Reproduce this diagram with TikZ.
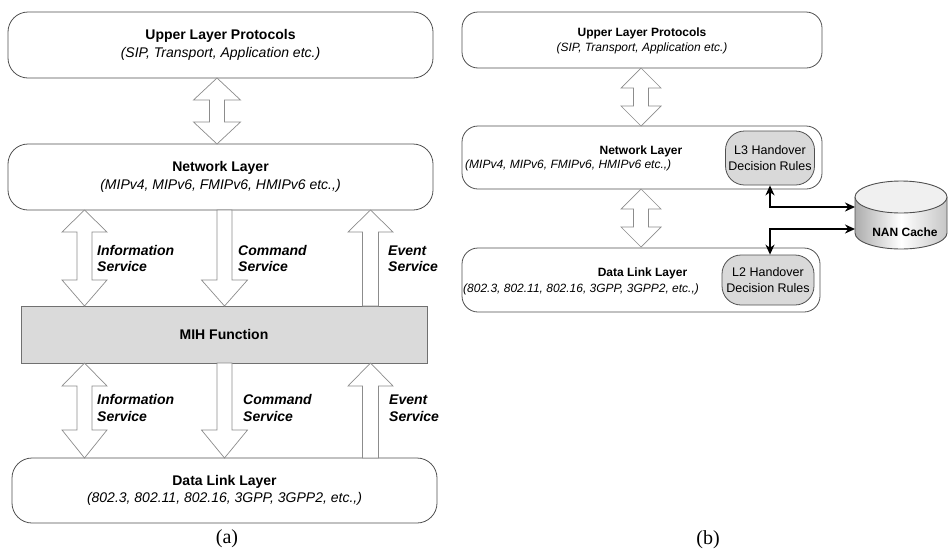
\documentclass[tikz,border=0pt]{standalone}
\usepackage{fontspec}
\setmainfont{Liberation Sans}
\newfontfamily\capfont{Liberation Serif}
\usetikzlibrary{arrows.meta}
\definecolor{boxline}{HTML}{505050}
\definecolor{arrline}{HTML}{8C8C8C}
\definecolor{mihfill}{HTML}{DADADA}
\definecolor{rulefill}{HTML}{D9D9D9}
\tikzset{
  layerA/.style={draw=boxline, line width=0.8pt, rounded corners=20pt, fill=white, minimum width=425pt, minimum height=66pt, inner sep=0pt, align=center, font=\fontsize{14}{17.5}\selectfont},
  layerB/.style={draw=boxline, line width=0.8pt, rounded corners=16pt, fill=white, minimum width=360pt, minimum height=60pt, inner sep=0pt},
  mihbox/.style={draw=arrline!80!black, line width=0.8pt, fill=mihfill, minimum width=406pt, minimum height=57pt, inner sep=0pt, font=\fontsize{14}{17}\selectfont\bfseries},
  rulebox/.style={draw=boxline, line width=0.8pt, rounded corners=19pt, fill=rulefill, inner sep=0pt, align=center, font=\fontsize{12.5}{16}\selectfont},
  blockarr/.style={draw=arrline, line width=0.7pt, fill=white, line join=miter},
  svclabel/.style={anchor=west, align=left, inner sep=0pt, font=\fontsize{14}{16.5}\selectfont\bfseries\itshape},
  btext/.style={inner sep=0pt, font=\fontsize{12}{15}\selectfont\bfseries},
  itext/.style={inner sep=0pt, font=\fontsize{12}{15}\selectfont\itshape},
  thickarr/.style={line width=2.2pt, {Stealth[length=10pt,width=9pt]}-{Stealth[length=10pt,width=9pt]}},
  caption/.style={inner sep=0pt, font=\fontsize{20}{23}\selectfont\capfont}
}
% double block arrow: cx, ytop, ybot, half head width, half shaft width, head length top, head length bottom
\newcommand{\dblarr}[7]{%
  \draw[blockarr] (#1,#2) -- ({#1+#4},{#2+#6}) -- ({#1+#5},{#2+#6}) -- ({#1+#5},{#3-#7}) -- ({#1+#4},{#3-#7}) -- (#1,#3) -- ({#1-#4},{#3-#7}) -- ({#1-#5},{#3-#7}) -- ({#1-#5},{#2+#6}) -- ({#1-#4},{#2+#6}) -- cycle;}
% down block arrow: cx, ytop, ybot, hw, sw, hl
\newcommand{\dnarr}[6]{%
  \draw[blockarr] ({#1-#5},#2) -- ({#1+#5},#2) -- ({#1+#5},{#3-#6}) -- ({#1+#4},{#3-#6}) -- (#1,#3) -- ({#1-#4},{#3-#6}) -- ({#1-#5},{#3-#6}) -- cycle;}
% up block arrow: cx, ytop(tip), ybot, hw, sw, hl
\newcommand{\uparr}[6]{%
  \draw[blockarr] ({#1-#5},#3) -- ({#1+#5},#3) -- ({#1+#5},{#2+#6}) -- ({#1+#4},{#2+#6}) -- (#1,#2) -- ({#1-#4},{#2+#6}) -- ({#1-#5},{#2+#6}) -- cycle;}
\begin{document}
\begin{tikzpicture}[x=1pt,y=-1pt]
\useasboundingbox (0,0) rectangle (948,552);
% ---------------- (a) ----------------
\node[layerA] (ulA) at (220.5,45) {\bfseries Upper Layer Protocols\\\itshape (SIP, Transport, Application etc.)};
\node[layerA] (nlA) at (220.5,177) {\bfseries Network Layer\\\itshape (MIPv4, MIPv6, FMIPv6, HMIPv6 etc.,)};
\node[mihbox] (mih) at (224,334.5) {MIH Function};
\node[layerA, minimum height=65pt] (dlA) at (224.5,490.5) {\bfseries Data Link Layer\\\itshape (802.3, 802.11, 802.16, 3GPP, 3GPP2, etc.,)};

\dblarr{217}{78}{144}{23.5}{7.5}{22}{22}
% upper group
\dblarr{84.5}{210}{306}{22.5}{7.5}{22}{26}
\dnarr{224.5}{210}{306}{23}{7.5}{26}
\uparr{370.5}{210}{306}{22.5}{8}{22}
% lower group
\dblarr{84.5}{363}{458}{22.5}{7.5}{23}{28}
\dnarr{224.5}{363}{458}{23}{7.5}{28}
\uparr{370.5}{363}{458}{22.5}{8}{23}

\node[svclabel] (isU) at (97,258.5) {Information\\Service};
\node[svclabel] (csU) at (238,258.5) {Command\\Service};
\node[svclabel] (esU) at (388,258.5) {Event\\Service};
\node[svclabel] (isL) at (97,408) {Information\\Service};
\node[svclabel] (csL) at (243,408) {Command\\Service};
\node[svclabel] (esL) at (389,408) {Event\\Service};

\node[caption] (capA) at (227,539) {(a)};

% ---------------- (b) ----------------
\node[layerB, minimum height=56pt] (ulB) at (642,40) {};
\node[btext] (ulBt) at (642,33) {Upper Layer Protocols};
\node[itext] (ulBi) at (642,48) {(SIP, Transport, Application etc.)};

\node[layerB, minimum height=63pt] (nlB) at (642,157.5) {};
\node[btext] (nlBt) at (641,151) {Network Layer};
\node[itext, anchor=west] (nlBi) at (465,165) {(MIPv4, MIPv6, FMIPv6, HMIPv6 etc.,)};
\node[rulebox, minimum width=89pt, minimum height=54pt] (L3) at (770,158) {L3 Handover\\Decision Rules};

\node[layerB, minimum width=358pt, minimum height=64pt] (dlB) at (641,280) {};
\node[btext] (dlBt) at (642.5,273) {Data Link Layer};
\node[itext, anchor=west] (dlBi) at (463,289) {(802.3, 802.11, 802.16, 3GPP, 3GPP2, etc.,)};
\node[rulebox, minimum width=92pt, minimum height=50pt] (L2) at (768,280) {L2 Handover\\Decision Rules};

\dblarr{641}{68}{126}{20}{7.5}{20}{20}
\dblarr{641}{189}{247}{20}{7.5}{20}{20}

% NAN cache cylinder
\shade[left color=gray!65, right color=gray!45, middle color=white]
  (855,197) -- (855,233) arc[start angle=180, end angle=360, x radius=46pt, y radius=16pt] -- (947,197) -- cycle;
\draw[boxline, line width=0.9pt]
  (855,197) -- (855,233) arc[start angle=180, end angle=360, x radius=46pt, y radius=16pt] -- (947,197);
\draw[boxline, line width=0.9pt, fill=gray!12] (901,197) ellipse[x radius=46pt, y radius=16pt];
\node[btext] (nan) at (905,232) {NAN Cache};
\coordinate (cacheA) at (855,207);
\coordinate (cacheB) at (855,229);

\draw[thickarr] (L3.south) |- (cacheA);
\draw[thickarr] (cacheB) -| (L3.south |- L2.north);

\node[caption] (capB) at (708,540) {(b)};
\end{tikzpicture}
\end{document}
